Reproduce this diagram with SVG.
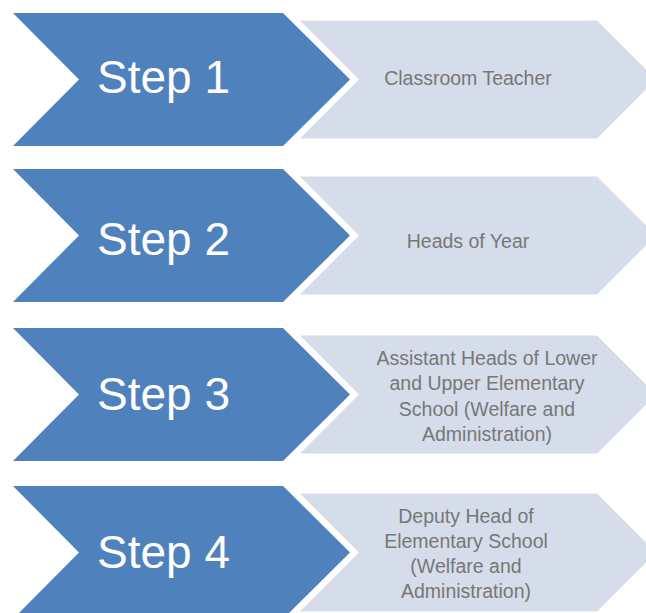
<svg xmlns="http://www.w3.org/2000/svg" width="646" height="613" viewBox="0 0 646 613">
<style>
.dark{fill:#4F81BD}
.light{fill:#D6DDEA}
.step{font-family:"Liberation Sans",Arial,sans-serif;font-size:46px;fill:#FFFFFF}
.lbl{font-family:"Liberation Sans",Arial,sans-serif;font-size:19.5px;fill:#777777;text-anchor:middle}
</style>
<rect width="646" height="613" fill="#FFFFFF"/>
<g id="step1">
<polygon class="light" points="300,20.5 597,20.5 656,79.5 597,138.5 300,138.5 359,79.5"/>
<polygon class="dark" points="13,13 283,13 350,79.5 283,146 13,146 79,79.5"/>
<text class="step" x="97" y="93">Step 1</text>
<text class="lbl" x="468" y="85">Classroom Teacher</text>
</g>
<g id="step2">
<polygon class="light" points="300,176.5 597,176.5 656,235.5 597,294.5 300,294.5 359,235.5"/>
<polygon class="dark" points="13,169 283,169 350,235.5 283,302 13,302 79,235.5"/>
<text class="step" x="97" y="255">Step 2</text>
<text class="lbl" x="468" y="248">Heads of Year</text>
</g>
<g id="step3">
<polygon class="light" points="300,335.5 597,335.5 656,394.5 597,453.5 300,453.5 359,394.5"/>
<polygon class="dark" points="13,328 283,328 350,394.5 283,461 13,461 79,394.5"/>
<text class="step" x="97" y="410">Step 3</text>
<text class="lbl" x="487" y="365">Assistant Heads of Lower</text>
<text class="lbl" x="487" y="390">and Upper Elementary</text>
<text class="lbl" x="487" y="416">School (Welfare and</text>
<text class="lbl" x="487" y="441">Administration)</text>
</g>
<g id="step4">
<polygon class="light" points="300,493.5 597,493.5 656,552.5 597,611.5 300,611.5 359,552.5"/>
<polygon class="dark" points="13,486 283,486 350,552.5 283,619 13,619 79,552.5"/>
<text class="step" x="97" y="568">Step 4</text>
<text class="lbl" x="466" y="523">Deputy Head of</text>
<text class="lbl" x="466" y="548">Elementary School</text>
<text class="lbl" x="466" y="573">(Welfare and</text>
<text class="lbl" x="466" y="598">Administration)</text>
</g>
<g id="connectors"/>
</svg>
